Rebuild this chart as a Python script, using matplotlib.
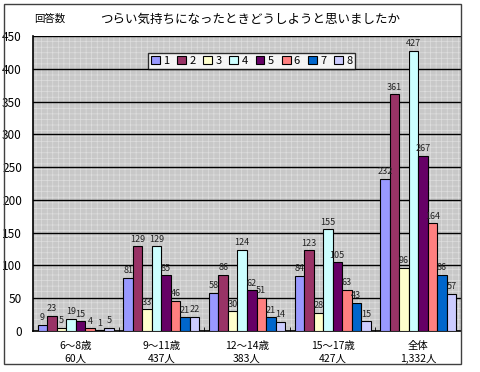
import numpy as np
import matplotlib.pyplot as plt
from matplotlib.patches import Rectangle

plt.rcParams['font.family'] = ['Noto Sans CJK JP', 'DejaVu Sans']
plt.rcParams['hatch.linewidth'] = 0.5

groups = ['6～8歳\n60人', '9～11歳\n437人', '12～14歳\n383人', '15～17歳\n427人', '全体\n1,332人']
series = ['1', '2', '3', '4', '5', '6', '7', '8']
values = [
    [9, 81, 58, 84, 232],
    [23, 129, 86, 123, 361],
    [5, 33, 30, 28, 96],
    [19, 129, 124, 155, 427],
    [15, 85, 62, 105, 267],
    [4, 46, 51, 63, 164],
    [1, 21, 21, 43, 86],
    [5, 22, 14, 15, 57],
]
colors = ['#9999FF', '#993366', '#FFFFCC', '#CCFFFF', '#660066', '#FF8080', '#0066CC', '#CCCCFF']

fig = plt.figure(figsize=(4.8, 3.72), dpi=100)
fig.patches.append(Rectangle((4 / 480, 1 - 364 / 372), 457 / 480, 360 / 372,
                             transform=fig.transFigure, fill=False,
                             edgecolor='#404040', linewidth=1.0))
ax = fig.add_axes([33 / 480, 1 - 331 / 372, 428 / 480, 295 / 372])
ax.set_facecolor('#c8c8c8')
bg = Rectangle((0, 0), 1, 1, transform=ax.transAxes, facecolor='none',
               edgecolor='#dedede', hatch='+++', linewidth=0, zorder=0)
ax.add_patch(bg)

index = np.arange(len(groups))
w = 0.111
for i, (vals, c) in enumerate(zip(values, colors)):
    x = index - 3.5 * w + i * w
    ax.bar(x, vals, width=w, color=c, edgecolor='black', linewidth=0.8,
           label=series[i], zorder=3)
    for xx, v in zip(x, vals):
        ax.text(xx, v + 4, str(v), ha='center', va='bottom', fontsize=6.5,
                color='#222222', zorder=4)

ax.set_xlim(-0.5, 4.5)
ax.set_ylim(0, 450)
ax.set_yticks(np.arange(0, 451, 50))
ax.yaxis.grid(True, color='black', linewidth=1.0, zorder=1)
ax.set_axisbelow(True)
ax.set_xticks(index)
ax.set_xticklabels(groups, fontsize=7.5, linespacing=1.35)
ax.set_xticks(np.arange(0.5, 4.5, 1), minor=True)
ax.tick_params(axis='x', which='major', length=0, pad=7)
ax.tick_params(axis='x', which='minor', length=3, direction='in')
ax.tick_params(axis='y', length=0, pad=8, labelsize=8.5)
ax.spines['top'].set_visible(False)
ax.spines['right'].set_visible(False)
ax.spines['left'].set_linewidth(1.2)
ax.spines['bottom'].set_linewidth(1.2)

leg = ax.legend(ncol=8, loc='upper left', bbox_to_anchor=((148 - 33) / 428, 1 - (53 - 36) / 295),
                fontsize=8, frameon=True, fancybox=False, edgecolor='black',
                handlelength=0.8, handleheight=0.8, handletextpad=0.3,
                columnspacing=0.7, borderpad=0.25, borderaxespad=0)
leg.get_frame().set_linewidth(1.0)
leg.set_zorder(5)

fig.text(34 / 480, 1 - 19 / 372, '回答数', fontsize=7.5, va='center')
fig.text(100 / 480, 1 - 19 / 372, 'つらい気持ちになったときどうしようと思いましたか', fontsize=9, va='center')

fig.savefig('out.png', dpi=100)
